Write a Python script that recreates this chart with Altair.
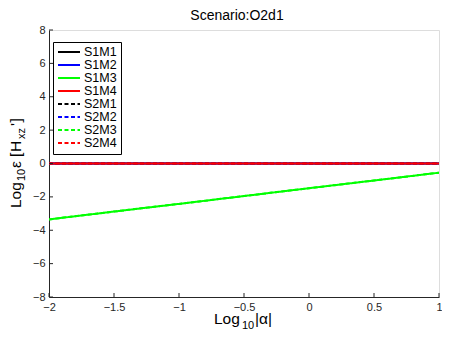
import altair as alt
import pandas as pd

# ---- data ----
series = ["S1M1", "S1M2", "S1M3", "S1M4", "S2M1", "S2M2", "S2M3", "S2M4"]
series_colors = ["#000000", "#0000ff", "#00ff00", "#ff0000",
                 "#000000", "#0000ff", "#00ff00", "#ff0000"]
series_dash = [[1, 0], [1, 0], [1, 0], [1, 0],
               [4, 2.5], [4, 2.5], [4, 2.5], [4, 2.5]]
top_series = ["S1M4", "S2M4"]   # drawn last (red line visible on top)
log_alpha = [-2, -1.5, -1, -0.5, 0, 0.5, 1]
zero_err = [0, 0, 0, 0, 0, 0, 0]
m3_err = [-3.35, -2.88, -2.42, -1.95, -1.48, -1.02, -0.55]
series_values = {
    "S1M1": zero_err, "S1M2": zero_err, "S1M3": m3_err, "S1M4": zero_err,
    "S2M1": zero_err, "S2M2": zero_err, "S2M3": m3_err, "S2M4": zero_err,
}
x_ticks = [-2, -1.5, -1, -0.5, 0, 0.5, 1]
y_ticks = [-8, -6, -4, -2, 0, 2, 4, 6, 8]

W, H = 390, 267
FONT = "Liberation Sans"
AX = "#262626"

rows = []
for s in series:
    for xv, yv in zip(log_alpha, series_values[s]):
        rows.append({"series": s, "x": xv, "y": yv,
                     "top": s in top_series})
df = pd.DataFrame(rows)

xscale = alt.Scale(domain=[-2, 1], nice=False, zero=False)
yscale = alt.Scale(domain=[-8, 8], nice=False, zero=False)

x_axis = alt.Axis(values=x_ticks, title=None, grid=False, ticks=False,
                  domainColor=AX, labelColor=AX, labelFont=FONT,
                  labelFontSize=11, labelPadding=4, labelFlush=False,
                  labelOverlap=False, format="~g")
y_axis = alt.Axis(values=y_ticks, title=None, grid=False, ticks=False,
                  domainColor=AX, labelColor=AX, labelFont=FONT,
                  labelFontSize=11, labelPadding=4, labelOverlap=False,
                  format="~g")

color_enc = alt.Color("series:N", sort=series,
                      scale=alt.Scale(domain=series, range=series_colors),
                      legend=alt.Legend(orient="none", legendX=4, legendY=12,
                                        title=None, symbolType="stroke",
                                        symbolSize=484, symbolStrokeWidth=2,
                                        labelFont=FONT, labelFontSize=12.5,
                                        labelColor="#000", labelOffset=3,
                                        padding=4, rowPadding=-2.3, clipHeight=11.8,
                                        fillColor="white", strokeColor="#000"))
dash_enc = alt.StrokeDash("series:N", sort=series,
                          scale=alt.Scale(domain=series, range=series_dash),
                          legend=alt.Legend(orient="none", legendX=4, legendY=12,
                                            title=None))

base = alt.Chart(df).mark_line(strokeWidth=2, clip=True).encode(
    x=alt.X("x:Q", scale=xscale, axis=x_axis),
    y=alt.Y("y:Q", scale=yscale, axis=y_axis),
    color=color_enc, strokeDash=dash_enc)
lines_under = base.transform_filter("!datum.top")
lines_over = base.transform_filter("datum.top")

# inward ticks (MATLAB style)
xt = alt.Chart(pd.DataFrame({"x": x_ticks})).mark_rule(color=AX, strokeWidth=1).encode(
    x=alt.X("x:Q", scale=xscale, axis=x_axis), y=alt.value(H), y2=alt.value(H - 4))
yt = alt.Chart(pd.DataFrame({"y": y_ticks})).mark_rule(color=AX, strokeWidth=1).encode(
    y=alt.Y("y:Q", scale=yscale, axis=y_axis), x=alt.value(0), x2=alt.value(4))


def label(text, x, y, size, angle=0, align="left"):
    kw = dict(text=text, font=FONT, fontSize=size, color="#000",
              align=align, baseline="alphabetic")
    if angle:
        kw["angle"] = angle
    return alt.Chart(alt.Data(values=[{}])).mark_text(**kw).encode(
        x=alt.value(x), y=alt.value(y))


YX = -28.5  # baseline of the rotated y title, relative to plot left
texts = [
    label("Scenario:O2d1", 188, -10, 14, align="center"),
    # x axis title  Log_10|alpha|
    label("Log", 165, 294, 15.5),
    label("10", 193, 298.5, 11),
    label("|α|", 206, 294, 15.5),
    # y axis title  Log_10 eps[H_xz ']
    label("Log", YX, 178, 15.5, angle=270),
    label("10", YX + 4.5, 151, 11, angle=270),
    label("ε", YX, 138, 15.5, angle=270),
    label("[", YX, 127, 15.5, angle=270),
    label("H", YX, 122, 15.5, angle=270),
    label("xz", YX + 4.5, 109, 11, angle=270),
    label("'", YX, 96, 15.5, angle=270),
    label("]", YX, 92.5, 15.5, angle=270),
]

chart = alt.layer(lines_under, lines_over, xt, yt, *texts).properties(
    width=W, height=H,
    autosize=alt.AutoSizeParams(type="none"),
    padding={"left": 41, "top": 22, "right": 3, "bottom": 33},
).configure_view(stroke=None).configure(background="white")

chart.save("out.html", embed_options={"renderer": "svg", "actions": False})
